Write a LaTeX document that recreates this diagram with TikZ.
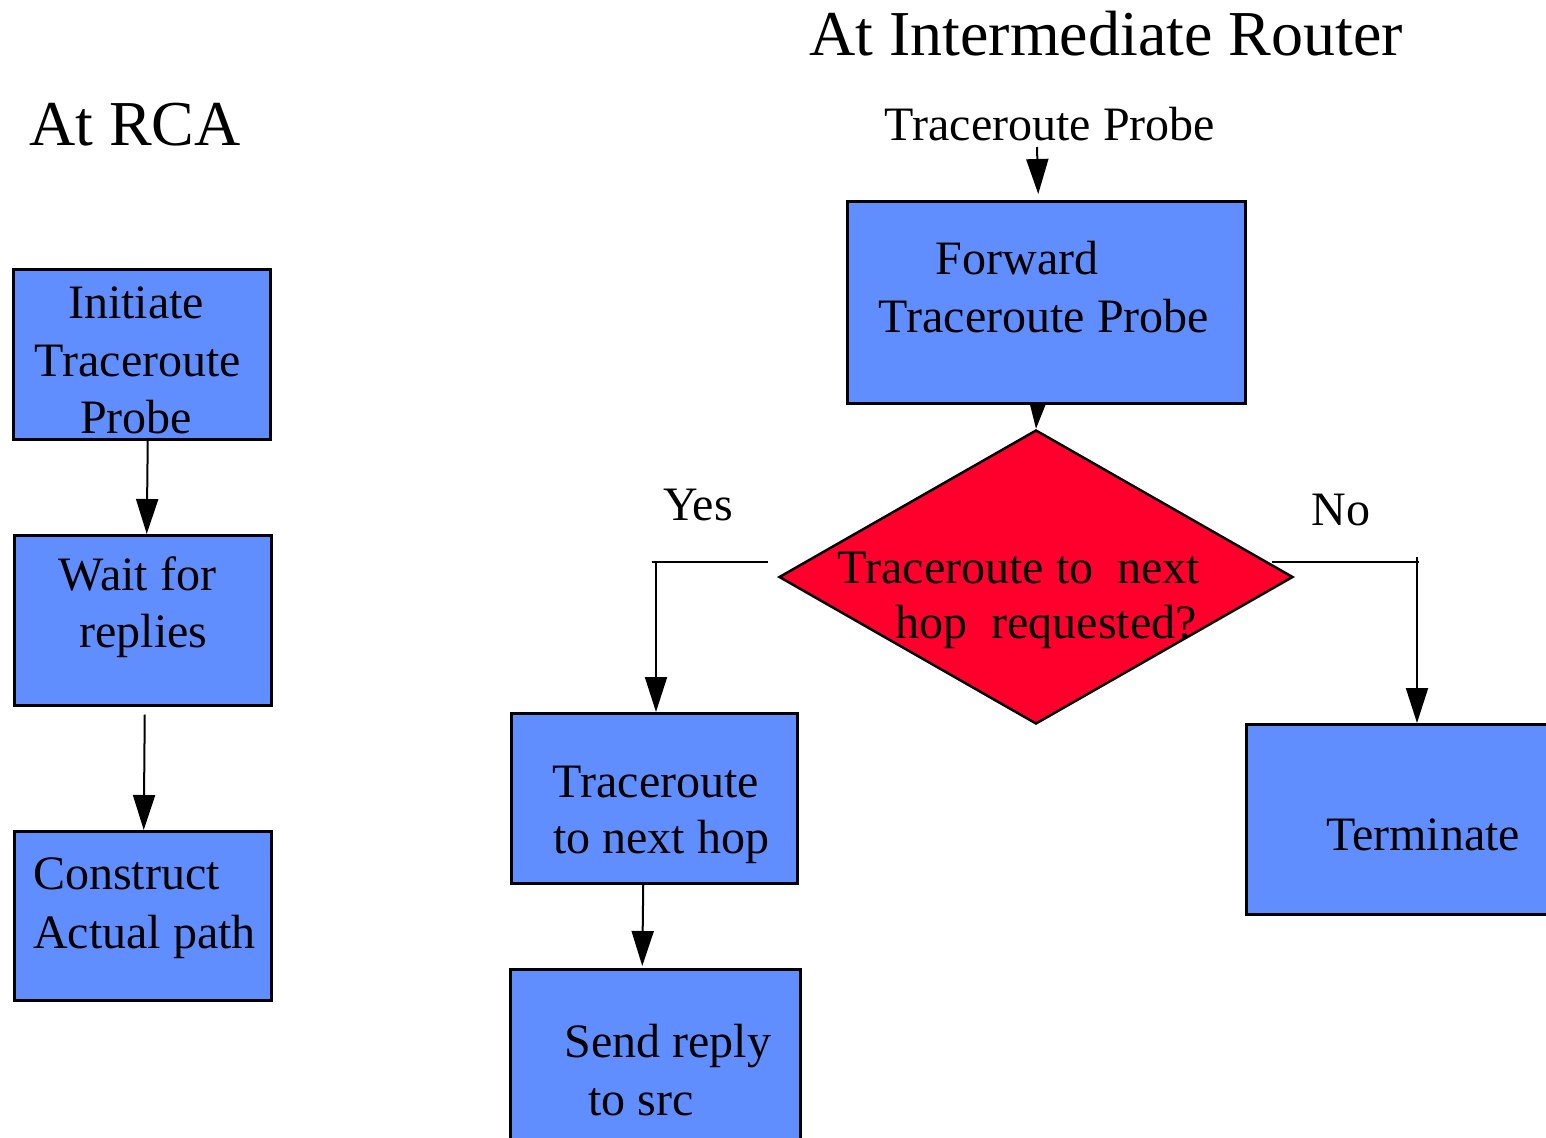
\documentclass[tikz,border=0pt]{standalone}
\usepackage{fontspec}
\setmainfont{Liberation Serif}
\usetikzlibrary{arrows.meta,shapes.geometric}
\pgfdeclarelayer{background}
\pgfsetlayers{background,main}
\definecolor{boxblue}{RGB}{97,142,255}
\definecolor{decred}{RGB}{255,0,44}

\begin{document}
\begin{tikzpicture}[x=1pt,y=-1pt,
  box/.style={rectangle,draw=black,line width=2.5pt,fill=boxblue,inner sep=0pt,anchor=north west},
  decision/.style={diamond,draw=black,line width=2.5pt,fill=decred,inner sep=0pt},
  txt/.style={inner sep=0pt,anchor=base,font=\fontsize{48}{58}\selectfont},
  lbl/.style={inner sep=0pt,anchor=base,font=\fontsize{48}{58}\selectfont},
  heading/.style={inner sep=0pt,anchor=base,font=\fontsize{64}{76}\selectfont},
  conn/.style={line width=2pt},
  arr/.style={line width=2pt,-{Triangle[length=35pt,width=22pt]}}
]
\useasboundingbox (0,0) rectangle (1546,1137);
\clip (0,0) rectangle (1546,1137);

% headings
\node[heading] (hrca) at (135,146) {At RCA};
\node[heading] (hrouter) at (1106,56) {At Intermediate Router};

% left column: the probing host
\node[box,minimum width=257pt,minimum height=170pt] (init) at (12,268) {};
\node[txt] (init1) at (136,318) {Initiate};
\node[txt] (init2) at (138,376) {Traceroute};
\node[txt] (init3) at (136,433) {Probe};

\node[box,minimum width=257pt,minimum height=170pt] (wait) at (13,534) {};
\node[txt] (wait1) at (137.5,590) {Wait for};
\node[txt] (wait2) at (143.5,647) {replies};

\node[box,minimum width=257pt,minimum height=169pt] (cons) at (13,830) {};
\node[txt,anchor=base west] (cons1) at (33,889) {Construct};
\node[txt,anchor=base west] (cons2) at (33,948) {Actual path};

\draw[arr] ([xshift=6pt]init.south) -- ([xshift=4pt]wait.north);
\draw[arr] ([xshift=2pt,yshift=-8pt]wait.south) -- ([xshift=1pt]cons.north);

% right part: the router
\node[lbl] (probe) at (1050,140) {Traceroute Probe};

\node[box,minimum width=398pt,minimum height=202pt] (fwd) at (846,200) {};
\node[txt] (fwd1) at (1017,274) {Forward};
\node[txt] (fwd2) at (1044,332) {Traceroute Probe};

\node[decision,minimum width=514pt,minimum height=294pt] (dec) at (1036,577) {};
\node[txt] (dec1) at (1019,583) {Traceroute to\ \ next};
\node[txt] (dec2) at (1046,638) {hop\ \ requested?};

\node[box,minimum width=286pt,minimum height=170pt] (hop) at (510,712) {};
\node[txt] (hop1) at (656,797) {Traceroute};
\node[txt] (hop2) at (661,853) {to next hop};

\node[box,minimum width=290pt,minimum height=190pt] (send) at (509,968) {};
\node[txt] (send1) at (668,1057) {Send reply};
\node[txt] (send2) at (641,1115) {to src};

\node[box,minimum width=320pt,minimum height=190pt] (term) at (1245,723) {};
\node[txt] (term1) at (1423,850) {Terminate};

\node[lbl] (yes) at (698,520) {Yes};
\node[lbl] (no) at (1341,525) {No};

% connectors
\coordinate (pin) at (1037,147);
\draw[arr] (pin) -- ([xshift=-8pt,yshift=6pt]fwd.north);
\begin{pgfonlayer}{background}
  \draw[arr] ([xshift=-8pt,yshift=9pt]fwd.south) -- (dec.north);
\end{pgfonlayer}

\coordinate (ya) at (768,562);
\coordinate (yb) at (652,562);
\coordinate (yc) at (656,562);
\draw[conn] (ya) -- (yb);
\draw[arr] (yc) -- (yc |- hop.north);

\coordinate (na) at (1272,562);
\coordinate (nb) at (1419,562);
\coordinate (nc) at (1417,557);
\draw[conn] (na) -- (nb);
\draw[arr] (nc) -- (nc |- term.north);

\draw[arr] ([xshift=-11pt]hop.south) -- ([xshift=-13pt,yshift=2pt]send.north);
\end{tikzpicture}
\end{document}
